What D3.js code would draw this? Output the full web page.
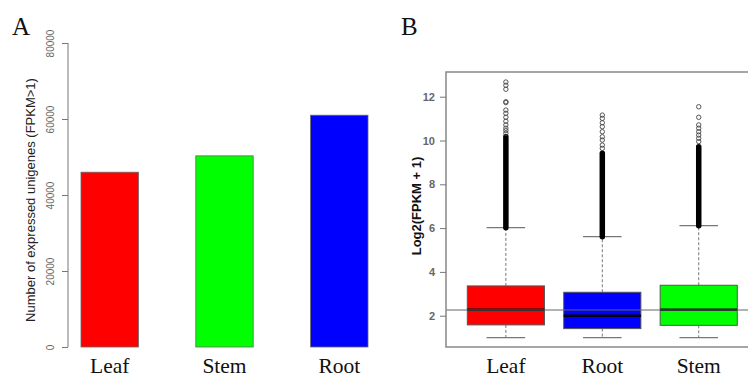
<!DOCTYPE html>
<html><head><meta charset="utf-8">
<script src="https://cdn.jsdelivr.net/npm/d3@7"></script>
<style>body{margin:0;background:#fff}svg{display:block}</style>
</head><body>
<svg id="c" width="748" height="378"></svg>
<script>
// Panel A data
const barCategories = ["Leaf", "Stem", "Root"];
const barValues = [46000, 50300, 61000];
const barColors = ["#ff0000", "#00ff00", "#0000ff"];
const barTicks = [0, 20000, 40000, 60000, 80000];

// Panel B data
const boxCategories = ["Leaf", "Root", "Stem"];
const boxColors = ["#ff0000", "#0000ff", "#00ff00"];
const boxLowWhisker = [1.0, 1.0, 1.0];
const boxQ1 = [1.58, 1.41, 1.56];
const boxMedian = [2.27, 2.0, 2.27];
const boxQ3 = [3.36, 3.07, 3.39];
const boxHighWhisker = [6.02, 5.61, 6.11];
// dense outlier columns (from, to)
const denseOutlierLow = [6.02, 5.61, 6.11];
const denseOutlierHigh = [10.17, 9.42, 9.72];
// sparse outliers
const leafOutliers = [10.33, 10.45, 10.56, 10.71, 10.88, 11.06, 11.24, 11.39, 11.73, 11.77, 12.34, 12.52, 12.67];
const rootOutliers = [9.64, 9.79, 10.02, 10.17, 10.40, 10.63, 10.81, 11.01, 11.16];
const stemOutliers = [9.95, 10.10, 10.25, 10.40, 10.56, 10.71, 11.06, 11.54];
const boxTicks = [2, 4, 6, 8, 10, 12];
const referenceLine = 2.26;

const svg = d3.select("#c");
const serif = "'Liberation Serif','Times New Roman',serif";
const sans = "'Liberation Sans',Arial,sans-serif";

// ---------- Panel A ----------
const xA = d3.scaleBand().domain(barCategories).range([81, 368]).paddingInner(0.5).paddingOuter(0);
const yA = d3.scaleLinear().domain([0, 80000]).range([347, 43]);

svg.append("text").attr("x", 12).attr("y", 35).attr("font-family", serif)
  .attr("font-size", 25).attr("fill", "#111").text("A");

svg.selectAll("rect.bar").data(barValues).enter().append("rect")
  .attr("x", (d, i) => xA(barCategories[i]))
  .attr("y", d => yA(d))
  .attr("width", xA.bandwidth())
  .attr("height", d => yA(0) - yA(d))
  .attr("fill", (d, i) => barColors[i])
  .attr("stroke", "#666").attr("stroke-width", 0.8);

const axA = svg.append("g").attr("transform", "translate(68,0)")
  .call(d3.axisLeft(yA).tickValues(barTicks).tickSize(6));
axA.select(".domain").attr("stroke", "#777").attr("d", "M0," + yA(80000) + "V" + yA(0));
axA.selectAll(".tick line").attr("stroke", "#777");
axA.selectAll(".tick").each(function(d){
  const t = d3.select(this);
  t.select("text").remove();
  t.append("text").attr("transform", "translate(-14,0) rotate(-90)")
    .attr("text-anchor", "middle").attr("font-family", sans).attr("font-size", 10).attr("fill", "#666")
    .text(d3.format("d")(d));
});

svg.append("text").attr("transform", "translate(35,200) rotate(-90)")
  .attr("text-anchor", "middle").attr("font-family", sans).attr("font-size", 13).attr("fill", "#222")
  .text("Number of expressed unigenes (FPKM>1)");

svg.selectAll("text.xa").data(barCategories).enter().append("text")
  .attr("x", d => xA(d) + xA.bandwidth() / 2).attr("y", 373)
  .attr("text-anchor", "middle").attr("font-family", serif).attr("font-size", 21.5).attr("fill", "#111")
  .text(d => d);

// ---------- Panel B ----------
const yB = d3.scaleLinear().domain([2, 12]).range([315.7, 96.7]);
const xB = d3.scaleBand().domain(boxCategories).range([467.3, 737.3]).paddingInner(0.2).paddingOuter(0);
const plotLeft = 446, plotTop = 72, plotBottom = 347, plotRight = 751;

svg.append("text").attr("x", 401).attr("y", 35).attr("font-family", serif)
  .attr("font-size", 25).attr("fill", "#111").text("B");

const gB = svg.append("g");
boxCategories.forEach((c, i) => {
  const cx = xB(c) + xB.bandwidth() / 2;
  const bw = xB.bandwidth();
  gB.append("line").attr("x1", cx).attr("x2", cx).attr("y1", yB(boxQ3[i])).attr("y2", yB(boxHighWhisker[i]))
    .attr("stroke", "#777").attr("stroke-width", 1).attr("stroke-dasharray", "3,2");
  gB.append("line").attr("x1", cx).attr("x2", cx).attr("y1", yB(boxQ1[i])).attr("y2", yB(boxLowWhisker[i]))
    .attr("stroke", "#777").attr("stroke-width", 1).attr("stroke-dasharray", "3,2");
  [boxHighWhisker[i], boxLowWhisker[i]].forEach(v => {
    gB.append("line").attr("x1", cx - bw / 4).attr("x2", cx + bw / 4).attr("y1", yB(v)).attr("y2", yB(v))
      .attr("stroke", "#777").attr("stroke-width", 1.3);
  });
  gB.append("rect").attr("x", xB(c)).attr("y", yB(boxQ3[i])).attr("width", bw)
    .attr("height", yB(boxQ1[i]) - yB(boxQ3[i])).attr("fill", boxColors[i])
    .attr("stroke", "#555").attr("stroke-width", 1);
  gB.append("line").attr("x1", xB(c)).attr("x2", xB(c) + bw).attr("y1", yB(boxMedian[i])).attr("y2", yB(boxMedian[i]))
    .attr("stroke", "#000").attr("stroke-width", 2.6);
  gB.append("line").attr("x1", cx).attr("x2", cx).attr("y1", yB(denseOutlierLow[i])).attr("y2", yB(denseOutlierHigh[i]))
    .attr("stroke", "#000").attr("stroke-width", 5.5).attr("stroke-linecap", "round");
});
const outlierSets = [leafOutliers, rootOutliers, stemOutliers];
outlierSets.forEach((set, i) => {
  const cx = xB(boxCategories[i]) + xB.bandwidth() / 2;
  gB.selectAll(null).data(set).enter().append("circle")
    .attr("cx", cx).attr("cy", d => yB(d)).attr("r", 2.2)
    .attr("fill", "none").attr("stroke", "#444").attr("stroke-width", 0.9);
});

gB.append("line").attr("x1", plotLeft).attr("x2", plotRight).attr("y1", yB(referenceLine)).attr("y2", yB(referenceLine))
  .attr("stroke", "#666").attr("stroke-width", 1);

svg.append("rect").attr("x", plotLeft).attr("y", plotTop).attr("width", plotRight - plotLeft).attr("height", plotBottom - plotTop)
  .attr("fill", "none").attr("stroke", "#888").attr("stroke-width", 1.5);

const axB = svg.append("g").attr("transform", "translate(" + plotLeft + ",0)")
  .call(d3.axisLeft(yB).tickValues(boxTicks).tickSize(6).tickPadding(5));
axB.select(".domain").remove();
axB.selectAll(".tick line").attr("stroke", "#777");
axB.selectAll(".tick text").attr("font-family", sans).attr("font-size", 11).attr("font-weight", "bold").attr("fill", "#666");

svg.append("text").attr("transform", "translate(421,206) rotate(-90)")
  .attr("text-anchor", "middle").attr("font-family", sans).attr("font-size", 13).attr("font-weight", "bold").attr("fill", "#111")
  .text("Log2(FPKM + 1)");

svg.selectAll("text.xb").data(boxCategories).enter().append("text")
  .attr("x", d => xB(d) + xB.bandwidth() / 2).attr("y", 373)
  .attr("text-anchor", "middle").attr("font-family", serif).attr("font-size", 21.5).attr("fill", "#111")
  .text(d => d);
</script>
</body></html>
